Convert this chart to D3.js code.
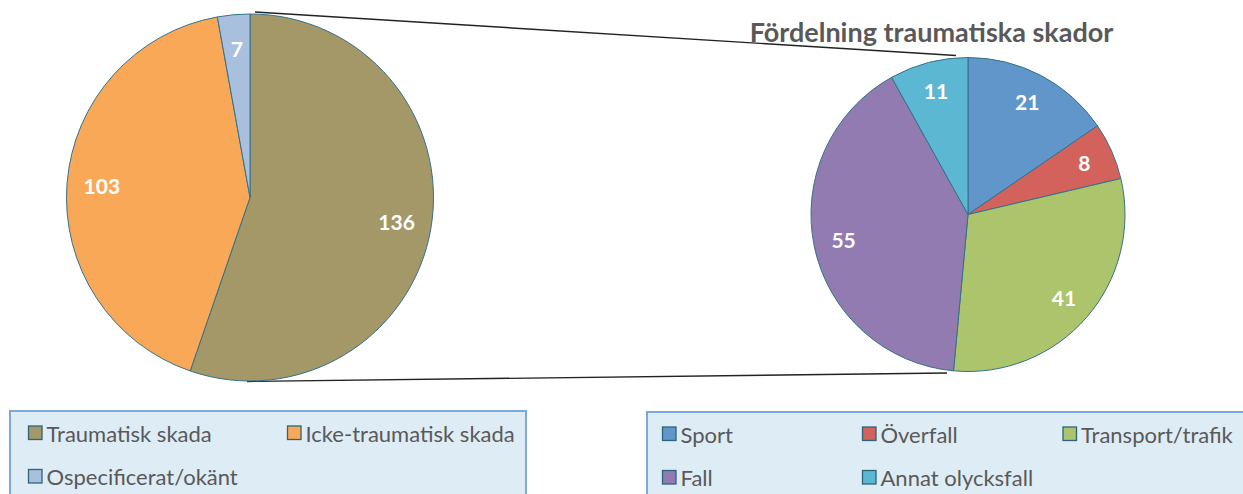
<!DOCTYPE html>
<html>
<head>
<meta charset="utf-8">
<script src="https://cdn.jsdelivr.net/npm/d3@7.9.0/dist/d3.min.js"></script>
<style>
  body { margin: 0; background: #fff; }
  svg { display: block; font-family: Lato, "Open Sans", sans-serif; }
</style>
</head>
<body>
<div id="chart"></div>
<script>
// main pie
const mainLabels = ['Traumatisk skada', 'Icke-traumatisk skada', 'Ospecificerat/okänt'];
const mainValues = [136, 103, 7];
const mainColors = ['#A49868', '#F9A857', '#A8C0DE'];

// secondary pie (breakdown of Traumatisk skada)
const subTitle = 'Fördelning traumatiska skador';
const subLabels = ['Sport', 'Överfall', 'Transport/trafik', 'Fall', 'Annat olycksfall'];
const subValues = [21, 8, 41, 55, 11];
const subColors = ['#6196CB', '#D2625B', '#ACC46B', '#927BB0', '#5CB8D2'];

const width = 1243, height = 494;
const textGrey = '#595959';

const svg = d3.select('#chart').append('svg')
  .attr('width', width)
  .attr('height', height);

function drawPie(cx, cy, r, labels, values, colors) {
  const pie = d3.pie().sort(null).value(d => d.value);
  const arcs = pie(values.map((v, i) => ({ label: labels[i], value: v, color: colors[i] })));
  const arc = d3.arc().innerRadius(0).outerRadius(r);
  const labelArc = d3.arc().innerRadius(r * 0.81).outerRadius(r * 0.81);

  const g = svg.append('g').attr('transform', `translate(${cx},${cy})`);
  g.selectAll('path')
    .data(arcs)
    .join('path')
    .attr('d', arc)
    .attr('fill', d => d.data.color)
    .attr('stroke', '#34718A')
    .attr('stroke-width', 1);

  g.selectAll('text')
    .data(arcs)
    .join('text')
    .attr('transform', d => `translate(${labelArc.centroid(d)})`)
    .attr('text-anchor', 'middle')
    .attr('dy', '0.36em')
    .attr('fill', '#fff')
    .attr('font-weight', 700)
    .attr('font-size', 21)
    .text(d => d.data.value);
}

const left = { cx: 250, cy: 197.5, r: 183.5 };
const right = { cx: 968, cy: 214.5, r: 157 };

// connector lines
const connectors = [
  [[left.cx + 5, left.cy - left.r - 2], [right.cx - 12, right.cy - right.r - 2]],
  [[left.cx - 3, left.cy + left.r + 0.5], [right.cx - 21, right.cy + right.r + 1.5]]
];
svg.append('g').selectAll('line')
  .data(connectors)
  .join('line')
  .attr('x1', d => d[0][0]).attr('y1', d => d[0][1])
  .attr('x2', d => d[1][0]).attr('y2', d => d[1][1])
  .attr('stroke', '#222')
  .attr('stroke-width', 1.4);

drawPie(left.cx, left.cy, left.r, mainLabels, mainValues, mainColors);
drawPie(right.cx, right.cy, right.r, subLabels, subValues, subColors);

svg.append('text')
  .attr('x', 931.5)
  .attr('y', 42)
  .attr('text-anchor', 'middle')
  .attr('font-weight', 700)
  .attr('font-size', 27)
  .attr('fill', textGrey)
  .text(subTitle);

// legends
function drawLegend(x, y, w, labels, colors, colX) {
  const g = svg.append('g').attr('transform', `translate(${x},${y})`);
  g.append('rect')
    .attr('x', 0).attr('y', 0)
    .attr('width', w).attr('height', 110)
    .attr('fill', '#DEECF6')
    .attr('stroke', '#7FA8DA')
    .attr('stroke-width', 2);

  const items = g.selectAll('g.item')
    .data(labels.map((l, i) => ({ label: l, color: colors[i], i })))
    .join('g')
    .attr('class', 'item')
    .attr('transform', d => `translate(${colX[d.i % colX.length]},${Math.floor(d.i / colX.length) * 43.5})`);

  items.append('rect')
    .attr('x', 0).attr('y', 15)
    .attr('width', 13.5).attr('height', 13.5)
    .attr('fill', d => d.color)
    .attr('stroke', '#2D6577')
    .attr('stroke-width', 1.3);

  items.append('text')
    .attr('x', 18)
    .attr('y', 30.5)
    .attr('font-size', 22)
    .attr('fill', textGrey)
    .text(d => d.label);
}

drawLegend(10, 411, 516, mainLabels, mainColors, [18.5, 277.5]);
drawLegend(647, 412, 620, subLabels, subColors, [15.5, 215.5, 416]);
</script>
</body>
</html>
